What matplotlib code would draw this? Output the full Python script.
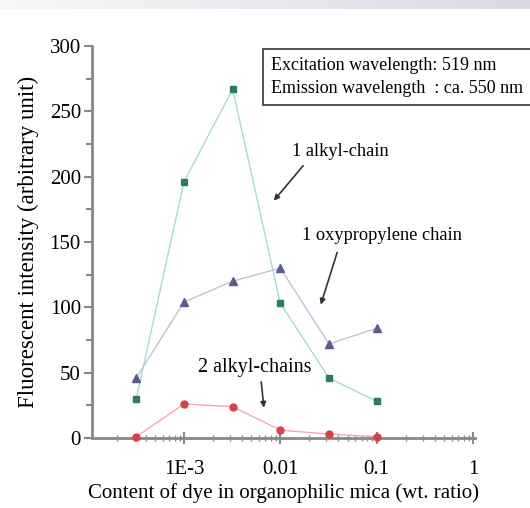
import numpy as np
import matplotlib
matplotlib.use("Agg")
import matplotlib.pyplot as plt
from matplotlib.ticker import FixedLocator, LogLocator, NullFormatter, MultipleLocator

plt.rcParams['font.family'] = ['Liberation Serif', 'DejaVu Serif']

# Data
dye_content = [3.2e-4, 1e-3, 3.2e-3, 1e-2, 3.2e-2, 0.1]
one_alkyl = [30, 196, 267, 103, 46, 28]
oxypropylene = [46, 104, 120, 130, 72, 84]
two_alkyl = [1, 26, 24, 6, 3, 1]

x_ticks = [1e-3, 1e-2, 1e-1, 1]
x_tick_labels = ['1E-3', '0.01', '0.1', '1']

fig = plt.figure(figsize=(5.3, 5.08), dpi=100)

# Header band with a soft gradient
band = fig.add_axes([0, 1 - 9 / 508, 1, 9 / 508])
grad = np.linspace(0, 1, 256).reshape(1, -1)
band.imshow(grad, aspect='auto', cmap=matplotlib.colors.LinearSegmentedColormap.from_list(
    'band', ['#f8f8fa', '#d9d9e3']))
band.axis('off')

ax = fig.add_axes([92 / 530, 1 - 438 / 508, (475 - 92) / 530, (438 - 46) / 508])

# Lines first, markers on top
ax.plot(dye_content, one_alkyl, color='#a6dccb', lw=1, zorder=2)
ax.plot(dye_content, oxypropylene, color='#c0c0dc', lw=1, zorder=2)
ax.plot(dye_content, two_alkyl, color='#f2aab0', lw=1, zorder=2)
ax.plot(dye_content, one_alkyl, ls='none', marker='s', ms=5, color='#2c7d5e', zorder=3)
ax.plot(dye_content, oxypropylene, ls='none', marker='^', ms=6, color='#5c5a8e', zorder=3)
ax.plot(dye_content, two_alkyl, ls='none', marker='o', ms=5, color='#d8404e', zorder=3,
        clip_on=False)

ax.set_xscale('log')
ax.set_xlim(1.11e-4, 1.05)
ax.set_ylim(0, 300)

ax.xaxis.set_major_locator(FixedLocator(x_ticks))
ax.set_xticklabels(x_tick_labels)
ax.xaxis.set_minor_locator(LogLocator(base=10, subs=np.arange(2, 10)))
ax.xaxis.set_minor_formatter(NullFormatter())
ax.yaxis.set_major_locator(MultipleLocator(50))
ax.yaxis.set_minor_locator(MultipleLocator(25))

for s in ['top', 'right']:
    ax.spines[s].set_visible(False)
for s in ['left', 'bottom']:
    ax.spines[s].set_color('#888888')
    ax.spines[s].set_linewidth(2)

ax.tick_params(axis='y', which='major', direction='out', length=6, width=1.5,
               color='#888888', labelsize=15, pad=2)
ax.tick_params(axis='y', which='minor', direction='out', length=4, width=1.5,
               color='#888888')
ax.tick_params(axis='x', which='major', direction='inout', length=8, width=1.5,
               color='#888888', labelsize=15, pad=12)
ax.tick_params(axis='x', which='minor', direction='inout', length=5, width=1,
               color='#888888')

ax.set_xlabel('Content of dye in organophilic mica (wt. ratio)', fontsize=15, labelpad=3)
ax.set_ylabel('Fluorescent intensity (arbitrary unit)', fontsize=16.5, labelpad=8)

arrow = dict(arrowstyle='-|>', color='#333333', lw=1.2, mutation_scale=8)

ax.text(0.0417, 219, '1 alkyl-chain', fontsize=13.2, ha='center', va='center')
ax.annotate('', xy=(8.2e-3, 180), xytext=(0.018, 210), arrowprops=arrow)

ax.text(0.114, 155, '1 oxypropylene chain', fontsize=13.2, ha='center', va='center')
ax.annotate('', xy=(0.0258, 100), xytext=(0.0397, 144), arrowprops=arrow)

ax.text(5.45e-3, 53.6, '2 alkyl-chains', fontsize=14.5, ha='center', va='center')
ax.annotate('', xy=(6.8e-3, 21), xytext=(6.3e-3, 45), arrowprops=arrow)

fig.text(271 / 530, 1 - 77 / 508,
         'Excitation wavelength: 519 nm\nEmission wavelength \u00a0: ca. 550 nm',
         fontsize=13, ha='left', va='center', linespacing=1.5,
         bbox=dict(boxstyle='square,pad=0.45', fc='white', ec='#333333', lw=1.2))

fig.savefig('out.png', dpi=100)
